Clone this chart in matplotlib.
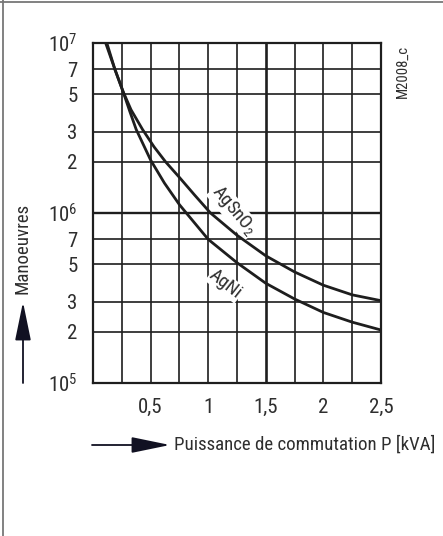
import matplotlib
matplotlib.use('Agg')
import matplotlib.pyplot as plt
from matplotlib import font_manager as fm
from matplotlib.lines import Line2D

# values
p_agsno2 = [0.11, 0.19, 0.26, 0.33, 0.43, 0.53, 0.63, 0.75, 0.88, 1.02, 1.25, 1.5, 1.75, 2.0, 2.25, 2.5]
n_agsno2 = [1e7, 7e6, 5.2e6, 4.05e6, 3.1e6, 2.45e6, 2e6, 1.62e6, 1.28e6, 1e6, 7.4e5, 5.6e5, 4.5e5,
            3.76e5, 3.3e5, 3.05e5]

p_agni = [0.12, 0.19, 0.26, 0.32, 0.375, 0.5, 0.62, 0.75, 0.81, 1.0, 1.25, 1.5, 1.75, 2.0, 2.25, 2.5]
n_agni = [1e7, 7e6, 5.2e6, 3.95e6, 3.1e6, 2.05e6, 1.5e6, 1.12e6, 1e6, 7e5, 5.1e5, 3.86e5, 3.12e5,
          2.6e5, 2.28e5, 2.05e5]

x_grid = [0.25, 0.5, 0.75, 1.0, 1.25, 1.5, 1.75, 2.0, 2.25]
x_labels = ['', '0,5', '', '1', '', '1,5', '', '2', '']
y_ticks = [1e5, 2e5, 3e5, 5e5, 7e5, 1e6, 2e6, 3e6, 5e6, 7e6, 1e7]
y_labels = [r'$10^5$', '2', '3', '5', '7', r'$10^6$', '2', '3', '5', '7', r'$10^7$']

# look for a narrow sans face, the reference uses a condensed grotesque
fonts = [(f.name, str(f.stretch)) for f in fm.fontManager.ttflist]
fam, stretch = 'Roboto', 'normal'
for name, st in fonts:
    if name == 'Liberation Sans Narrow':
        fam, stretch = name, 'normal'
        break
    if 'Condensed' in name or 'Narrow' in name:
        fam, stretch = name, 'normal'
    elif name == 'DejaVu Sans' and st in ('condensed', 'semi-condensed'):
        fam, stretch = name, 'condensed'

plt.rcParams['font.family'] = [fam, 'DejaVu Sans']
plt.rcParams['font.stretch'] = stretch
plt.rcParams['mathtext.fontset'] = 'custom'
plt.rcParams['mathtext.rm'] = fam + (':stretch=condensed' if stretch == 'condensed' else '')
plt.rcParams['mathtext.it'] = plt.rcParams['mathtext.rm']

W, H = 443, 536
fig = plt.figure(figsize=(W / 100, H / 100), dpi=100)
ax = fig.add_axes([93 / W, 1 - 383 / H, (381 - 93) / W, (383 - 43) / H])

ink = '#1e1e1e'
txt = '#2e2e2e'
ax.set_xlim(0, 2.5)
ax.set_ylim(1e5, 1e7)
ax.set_yscale('log')
ax.minorticks_off()

ax.set_xticks(x_grid + [2.5])
ax.set_xticklabels(x_labels + ['2,5'])
ax.set_yticks(y_ticks)
ax.set_yticklabels(y_labels)
ax.tick_params(length=0, labelsize=15, colors=txt)
ax.tick_params(axis='x', pad=11)
ax.tick_params(axis='y', pad=11)

for x in x_grid:
    ax.axvline(x, color=ink, lw=1.9 if x == 1.5 else 1.2, zorder=1)
for y in y_ticks[1:-1]:
    ax.axhline(y, color=ink, lw=1.7 if y == 1e6 else 1.2, zorder=1)
for s in ax.spines.values():
    s.set_color(ink)
    s.set_linewidth(1.6)

ax.plot(p_agsno2, n_agsno2, color=ink, lw=2.0, zorder=3, solid_joinstyle='round')
ax.plot(p_agni, n_agni, color=ink, lw=2.0, zorder=3, solid_joinstyle='round')

bb = dict(facecolor='white', edgecolor='none', pad=0.5)
ax.text(1.22, 1.03e6, 'AgSnO$_2$', rotation=-50, fontsize=13.5, color=txt,
        ha='center', va='center', bbox=bb, zorder=2)
ax.text(1.15, 3.8e5, 'AgNi', rotation=-38, fontsize=13.5, color=txt,
        ha='center', va='center', bbox=bb, zorder=2)

# frame lines at top and left of the figure
fig.add_artist(Line2D([0, 1], [1 - 2 / H, 1 - 2 / H], color='#777777', lw=1.3))
fig.add_artist(Line2D([3 / W, 3 / W], [0, 1], color='#777777', lw=1.3))

fig.text(403 / W, 1 - 71 / H, 'M2008_c', rotation=90, fontsize=10.5,
         color=txt, ha='center', va='center')

arrow = dict(arrowstyle='-|>,head_length=1.7,head_width=0.35', color='#111122',
             lw=1.3, mutation_scale=14, shrinkA=0, shrinkB=0)
ax.annotate('', xy=(170 / W, 1 - 445 / H), xytext=(92 / W, 1 - 445 / H),
            xycoords='figure fraction', textcoords='figure fraction',
            arrowprops=arrow)
xl = fig.text(174 / W, 1 - 445 / H, 'Puissance de commutation P [kVA]', fontsize=14,
              color=txt, ha='left', va='center')

ax.annotate('', xy=(23 / W, 1 - 302 / H), xytext=(23 / W, 1 - 383 / H),
            xycoords='figure fraction', textcoords='figure fraction',
            arrowprops=arrow)
yl = fig.text(23 / W, 1 - 248 / H, 'Manoeuvres', rotation=90, fontsize=14,
              color=txt, ha='center', va='center')

# shrink the axis texts if the chosen face is wider than the reference
r = fig.canvas.get_renderer()
w = xl.get_window_extent(r).width
if w > 262:
    xl.set_fontsize(14 * 262 / w)
h = yl.get_window_extent(r).height
if h > 92:
    yl.set_fontsize(14 * 92 / h)

fig.savefig('out.png', dpi=100)
